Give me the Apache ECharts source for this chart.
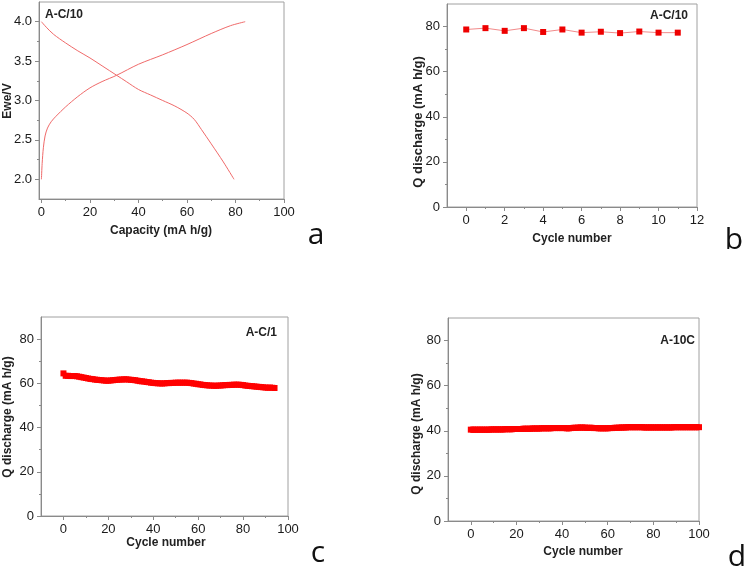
<html>
<head>
<meta charset="utf-8">
<script src="https://cdn.jsdelivr.net/npm/echarts@6/dist/echarts.min.js"></script>
</head>
<body>
<style>
  html, body, #main { width: 100%; height: 100%; margin: 0; background: #fff; }
</style>
<div id="main"></div>
<script>
// panel a: charge / discharge curves at C/10
var chargeCap = [0, 0.3, 0.8, 1.5, 2.5, 4, 6, 10, 15, 20, 25, 31, 40, 50, 60, 70, 78, 84];
var chargeV   = [2.0, 2.2, 2.4, 2.55, 2.65, 2.73, 2.8, 2.92, 3.05, 3.16, 3.24, 3.32, 3.46, 3.58, 3.71, 3.85, 3.95, 4.0];
var dischargeCap = [0, 2, 5, 10, 15, 20, 25, 31, 35, 40, 45, 50, 55, 60, 63, 66, 70, 75, 79.4];
var dischargeV   = [4.0, 3.93, 3.84, 3.73, 3.63, 3.54, 3.44, 3.32, 3.24, 3.14, 3.07, 3.0, 2.93, 2.84, 2.76, 2.63, 2.45, 2.22, 2.0];

// panel b: discharge capacity per cycle, C/10
var cyclesB = [0, 1, 2, 3, 4, 5, 6, 7, 8, 9, 10, 11];
var qB = [78.7, 79.3, 78.1, 79.3, 77.6, 78.7, 77.3, 77.7, 77.1, 77.8, 77.3, 77.3];

// panel c: discharge capacity per cycle, C/1 (cycles 0..94)
var qC = [64.5,
  63.4, 63.4, 63.3, 63.3, 63.3, 63.2, 63.0, 62.8, 62.6, 62.4,
  62.2, 62.0, 61.9, 61.7, 61.6, 61.5, 61.4, 61.3, 61.2, 61.2,
  61.3, 61.4, 61.5, 61.6, 61.7, 61.7, 61.8, 61.8, 61.7, 61.6,
  61.5, 61.4, 61.2, 61.0, 60.9, 60.8, 60.6, 60.5, 60.3, 60.2,
  60.1, 60.0, 60.0, 59.9, 60.0, 60.1, 60.1, 60.2, 60.2, 60.3,
  60.3, 60.3, 60.3, 60.3, 60.3, 60.2, 60.1, 59.9, 59.8, 59.6,
  59.5, 59.3, 59.2, 59.1, 59.0, 59.0, 58.9, 58.9, 59.0, 59.0,
  59.1, 59.2, 59.2, 59.3, 59.3, 59.4, 59.4, 59.4, 59.3, 59.2,
  59.0, 58.9, 58.8, 58.7, 58.6, 58.5, 58.4, 58.3, 58.2, 58.1,
  58.0, 58.1, 58.0, 57.9];

// panel d: discharge capacity per cycle, 10C (cycles 0..100)
var qD = [40.5,
  40.5, 40.5, 40.5, 40.5, 40.5, 40.5, 40.5, 40.5, 40.6, 40.6,
  40.6, 40.6, 40.6, 40.6, 40.7, 40.7, 40.7, 40.7, 40.8, 40.8,
  40.8, 40.8, 40.9, 40.9, 40.9, 40.9, 41.0, 41.0, 41.0, 41.0,
  41.1, 41.1, 41.1, 41.1, 41.1, 41.2, 41.2, 41.2, 41.2, 41.2,
  41.2, 41.1, 41.1, 41.2, 41.3, 41.3, 41.4, 41.4, 41.4, 41.4,
  41.3, 41.3, 41.3, 41.2, 41.2, 41.1, 41.1, 41.1, 41.1, 41.1,
  41.2, 41.2, 41.3, 41.3, 41.4, 41.4, 41.5, 41.5, 41.6, 41.6,
  41.6, 41.6, 41.6, 41.6, 41.6, 41.5, 41.5, 41.5, 41.5, 41.5,
  41.5, 41.5, 41.5, 41.5, 41.5, 41.5, 41.5, 41.5, 41.6, 41.6,
  41.6, 41.6, 41.6, 41.6, 41.6, 41.6, 41.6, 41.6, 41.6, 41.6];

// tick positions
var aXTicks = [0, 20, 40, 60, 80, 100];
var aXMinor = [10, 30, 50, 70, 90];
var aYTicks = [2.0, 2.5, 3.0, 3.5, 4.0];
var aYMinor = [2.25, 2.75, 3.25, 3.75];
var bXTicks = [0, 2, 4, 6, 8, 10, 12];
var bXMinor = [1, 3, 5, 7, 9, 11];
var qTicks = [0, 20, 40, 60, 80];
var qMinor = [10, 30, 50, 70];
var cycTicks = [0, 20, 40, 60, 80, 100];
var cycMinor = [10, 30, 50, 70, 90];

var FONT = '"Liberation Sans", Arial, sans-serif';
var AXIS_COLOR = '#8a8a8a';

function pairs(xs, ys) {
    return xs.map(function (x, i) { return [x, ys[i]]; });
}
function byIndex(ys) {
    return ys.map(function (y, i) { return [i, y]; });
}

function majorAxis(grid, min, max, ticks, fmt) {
    return {
        type: 'value', gridIndex: grid, min: min, max: max,
        axisLine: { show: true, onZero: false, lineStyle: { color: AXIS_COLOR, width: 1 } },
        axisTick: { show: true, length: 4, customValues: ticks, lineStyle: { color: AXIS_COLOR } },
        axisLabel: { customValues: ticks, margin: 7, color: '#1a1a1a', fontSize: 13, fontFamily: FONT,
                     formatter: fmt },
        splitLine: { show: false }
    };
}
function minorAxis(grid, min, max, ticks) {
    return {
        type: 'value', gridIndex: grid, min: min, max: max,
        axisLine: { show: false, onZero: false },
        axisTick: { show: true, length: 2, customValues: ticks, lineStyle: { color: AXIS_COLOR } },
        axisLabel: { show: false },
        splitLine: { show: false }
    };
}
function withPos(ax, pos) { ax.position = pos; return ax; }

var fmt1 = function (v) { return v.toFixed(1); };
var fmt0 = function (v) { return String(Math.round(v)); };

var xAxes = [
    withPos(majorAxis(0, -1, 100, aXTicks, fmt0), 'bottom'),
    withPos(minorAxis(0, -1, 100, aXMinor), 'bottom'),
    withPos(majorAxis(1, -1, 12, bXTicks, fmt0), 'bottom'),
    withPos(minorAxis(1, -1, 12, bXMinor), 'bottom'),
    withPos(majorAxis(2, -10, 100, cycTicks, fmt0), 'bottom'),
    withPos(minorAxis(2, -10, 100, cycMinor), 'bottom'),
    withPos(majorAxis(3, -10, 100, cycTicks, fmt0), 'bottom'),
    withPos(minorAxis(3, -10, 100, cycMinor), 'bottom')
];
var yAxes = [
    withPos(majorAxis(0, 1.75, 4.25, aYTicks, fmt1), 'left'),
    withPos(minorAxis(0, 1.75, 4.25, aYMinor), 'left'),
    withPos(majorAxis(1, 0, 90, qTicks, fmt0), 'left'),
    withPos(minorAxis(1, 0, 90, qMinor), 'left'),
    withPos(majorAxis(2, 0, 90, qTicks, fmt0), 'left'),
    withPos(minorAxis(2, 0, 90, qMinor), 'left'),
    withPos(majorAxis(3, 0, 90, qTicks, fmt0), 'left'),
    withPos(minorAxis(3, 0, 90, qMinor), 'left')
];

function gridBox(left, top, width, height) {
    return { left: left, top: top, width: width, height: height, show: true,
             borderColor: '#a0a0a0', borderWidth: 1, backgroundColor: 'transparent' };
}

function txt(x, y, text, opts) {
    opts = opts || {};
    return {
        type: 'text', x: x, y: y, rotation: opts.rot || 0, z: 100,
        style: {
            text: text, fill: opts.color || '#222',
            font: (opts.weight || 'bold') + ' ' + (opts.size || 12) + 'px ' + (opts.family || FONT),
            align: opts.align || 'center', verticalAlign: opts.va || 'middle'
        }
    };
}

var LETTER = '"Open Sans", "Noto Sans", sans-serif';

var chart = echarts.init(document.getElementById('main'));
var option = {
    animation: false,
    backgroundColor: '#fff',
    grid: [
        gridBox(39, 2, 245, 197),
        gridBox(447, 4, 250, 203),
        gridBox(41, 317, 247, 199),
        gridBox(448, 318, 251, 203)
    ],
    xAxis: xAxes,
    yAxis: yAxes,
    series: [
        {
            type: 'line', xAxisIndex: 0, yAxisIndex: 0, smooth: 0.3, showSymbol: false,
            lineStyle: { color: '#f06a6a', width: 1 }, data: pairs(chargeCap, chargeV)
        },
        {
            type: 'line', xAxisIndex: 0, yAxisIndex: 0, smooth: 0.3, showSymbol: false,
            lineStyle: { color: '#f06a6a', width: 1 }, data: pairs(dischargeCap, dischargeV)
        },
        {
            type: 'line', xAxisIndex: 2, yAxisIndex: 2, symbol: 'rect', symbolSize: 6,
            lineStyle: { color: '#f28a8a', width: 1 }, itemStyle: { color: '#ee0000' },
            data: pairs(cyclesB, qB)
        },
        {
            type: 'line', xAxisIndex: 4, yAxisIndex: 4, symbol: 'rect', symbolSize: 6,
            lineStyle: { color: '#ff0000', width: 5 }, itemStyle: { color: '#ff0000' },
            data: byIndex(qC)
        },
        {
            type: 'line', xAxisIndex: 6, yAxisIndex: 6, symbol: 'rect', symbolSize: 6,
            lineStyle: { color: '#ff0000', width: 6 }, itemStyle: { color: '#ff0000' },
            data: byIndex(qD)
        }
    ],
    graphic: [
        // axis titles
        txt(161, 231, 'Capacity (mA h/g)'),
        txt(8, 101, 'Ewe/V', { rot: Math.PI / 2 }),
        txt(572, 239, 'Cycle number'),
        txt(418, 122, 'Q discharge (mA h/g)', { rot: Math.PI / 2, size: 13 }),
        txt(166, 543, 'Cycle number'),
        txt(8, 417, 'Q discharge (mA h/g)', { rot: Math.PI / 2 }),
        txt(583, 552, 'Cycle number'),
        txt(417, 434, 'Q discharge (mA h/g)', { rot: Math.PI / 2 }),
        // in-plot tags
        txt(45, 15, 'A-C/10', { align: 'left' }),
        txt(688, 16, 'A-C/10', { align: 'right' }),
        txt(277, 333, 'A-C/1', { align: 'right' }),
        txt(695, 341, 'A-10C', { align: 'right' }),
        // panel letters
        txt(316, 235, 'a', { weight: 'normal', size: 30, family: LETTER, color: '#111' }),
        txt(734, 240, 'b', { weight: 'normal', size: 30, family: LETTER, color: '#111' }),
        txt(318, 553, 'c', { weight: 'normal', size: 30, family: LETTER, color: '#111' }),
        txt(737, 557, 'd', { weight: 'normal', size: 30, family: LETTER, color: '#111' })
    ]
};
chart.setOption(option);
window.onresize = chart.resize;
</script>
</body>
</html>
